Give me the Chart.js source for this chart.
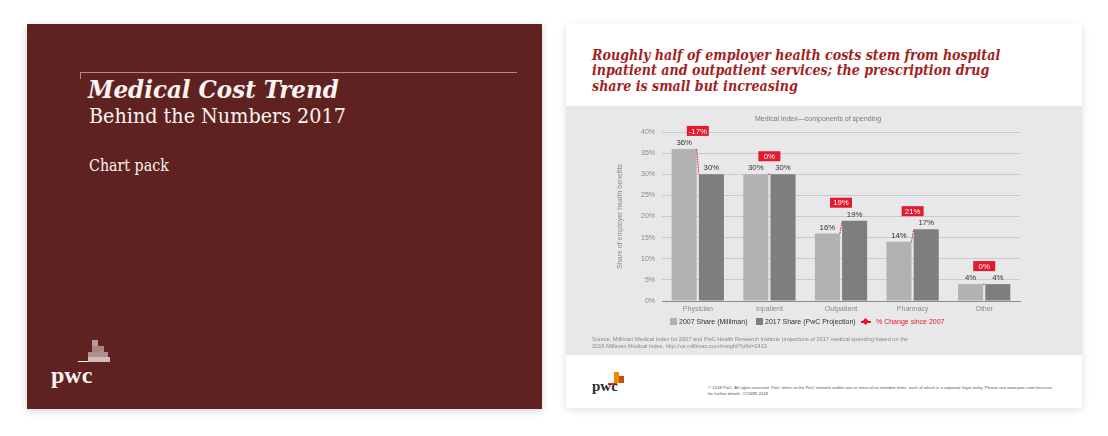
<!DOCTYPE html>
<html>
<head>
<meta charset="utf-8">
<script src="https://cdn.jsdelivr.net/npm/chart.js@4.4.1/dist/chart.umd.min.js"></script>
<style>
  body { margin: 0; width: 1108px; height: 436px; background: #fff; position: relative; overflow: hidden; font-family: "Liberation Sans", Arial, sans-serif; }
  .abs { position: absolute; }
  #cover { left: 27px; top: 24px; width: 515px; height: 385px; background: #5f2221; box-shadow: 0 2px 8px rgba(0,0,0,0.18); }
  #slide { left: 566px; top: 24px; width: 516px; height: 384px; background: #fff; box-shadow: 0 2px 8px rgba(0,0,0,0.12); }
  #panel { left: 566px; top: 106px; width: 516px; height: 249px; background: #e8e7e9; }
  .serif { font-family: "DejaVu Serif", "Liberation Serif", serif; white-space: nowrap; transform-origin: 0 0; }
  .leg { font-size: 7px; color: #333; white-space: nowrap; line-height: 8px; }
</style>
</head>
<body>

<!-- cover slide -->
<div id="cover" class="abs"></div>
<div class="abs" style="left:80px;top:72px;width:437px;height:1px;background:#b08a88;"></div>
<div class="abs" style="left:80px;top:72px;width:1px;height:7px;background:#b08a88;"></div>
<div class="abs serif" style="left:88px;top:75px;font-size:25px;font-weight:bold;font-style:italic;color:#fbf4f3;transform:scaleX(0.92);">Medical Cost Trend</div>
<div class="abs serif" style="left:89px;top:104px;font-size:20.5px;color:#fbf4f3;transform:scaleX(0.935);">Behind the Numbers 2017</div>
<div class="abs serif" style="left:89px;top:156px;font-size:16px;color:#fbf4f3;transform:scaleX(0.89);">Chart pack</div>
<div class="abs" style="left:92px;top:340px;width:6px;height:6px;background:rgba(255,255,255,0.55);"></div>
<div class="abs" style="left:92px;top:346px;width:12px;height:6px;background:rgba(255,255,255,0.45);"></div>
<div class="abs" style="left:88px;top:352px;width:20px;height:5px;background:rgba(255,255,255,0.5);"></div>
<div class="abs" style="left:88px;top:357px;width:22px;height:5px;background:rgba(255,255,255,0.7);"></div>
<div class="abs" style="left:78px;top:361px;width:10px;height:1px;background:#fff;"></div>
<div class="abs" style="left:51px;top:362px;font-family:'Liberation Serif',serif;font-size:24px;font-weight:bold;color:#fbf4f3;">pwc</div>

<!-- chart slide -->
<div id="slide" class="abs"></div>
<div class="abs serif" style="left:592px;top:47px;font-size:14.4px;line-height:15.3px;font-weight:bold;font-style:italic;color:#a31f22;transform:scaleX(0.88);">Roughly half of employer health costs stem from hospital<br>inpatient and outpatient services; the prescription drug<br>share is small but increasing</div>
<div id="panel" class="abs"></div>
<canvas id="chart" class="abs" style="left:566px;top:106px;" width="516" height="249"></canvas>

<!-- legend -->
<div class="abs" style="left:670px;top:318px;width:7px;height:7px;background:#b2b1b3;"></div>
<div class="abs leg" style="left:679px;top:318px;">2007 Share (Milliman)</div>
<div class="abs" style="left:756px;top:318px;width:7px;height:7px;background:#7e7d80;"></div>
<div class="abs leg" style="left:765px;top:318px;">2017 Share (PwC Projection)</div>
<div class="abs" style="left:861px;top:321px;width:10px;height:1.5px;background:#e3192d;"></div>
<div class="abs" style="left:863px;top:318.5px;width:5px;height:5px;background:#e3192d;transform:rotate(45deg);"></div>
<div class="abs leg" style="left:876px;top:318px;color:#e3192d;">% Change since 2007</div>

<div class="abs" style="left:592px;top:336px;font-size:5.6px;line-height:7px;color:#8a8a8a;white-space:nowrap;">Source: Milliman Medical Index for 2007 and PwC Health Research Institute projections of 2017 medical spending based on the<br>2016 Milliman Medical Index. http://us.milliman.com/insight/?pfid=2413</div>

<div class="abs" style="left:614px;top:372px;width:5px;height:11px;background:#eb8c00;"></div>
<div class="abs" style="left:619px;top:376px;width:5px;height:7px;background:#d04a02;"></div>
<div class="abs" style="left:608px;top:383px;width:9px;height:1.5px;background:#e0301e;"></div>
<div class="abs" style="left:592px;top:378px;font-family:'Liberation Serif',serif;font-size:15px;font-weight:bold;color:#2d2d2d;">pwc</div>
<div class="abs" style="left:708px;top:385px;font-size:4.3px;line-height:5.5px;color:#555;white-space:nowrap;">© 2018 PwC. All rights reserved. PwC refers to the PwC network and/or one or more of its member firms, each of which is a separate legal entity. Please see www.pwc.com/structure<br>for further details. 172489-2018</div>

<script>
var categories = ["Physician", "Inpatient", "Outpatient", "Pharmacy", "Other"];
var share2007 = [36, 30, 16, 14, 4];
var share2017 = [30, 30, 19, 17, 4];
var changeSince2007 = ["-17%", "0%", "19%", "21%", "0%"];

var red = "#e3192d";
var sans = "'Liberation Sans', Arial, sans-serif";

//Value labels, dotted connectors and % change boxes
var annotations = {
    id: "annotations",
    afterDatasetsDraw: function(chart){
        var ctx = chart.ctx;
        var bars07 = chart.getDatasetMeta(0).data;
        var bars17 = chart.getDatasetMeta(1).data;
        ctx.save();
        for(var i = 0; i < bars07.length; i++){
            var a = bars07[i], b = bars17[i];

            ctx.strokeStyle = red;
            ctx.lineWidth = 1;
            ctx.setLineDash([1.5, 1]);
            ctx.beginPath();
            ctx.moveTo(a.x + a.width / 2, a.y);
            ctx.lineTo(b.x - b.width / 2, b.y);
            ctx.stroke();
            ctx.setLineDash([]);

            ctx.fillStyle = "#333";
            ctx.font = "7.8px " + sans;
            ctx.textAlign = "center";
            ctx.textBaseline = "middle";
            ctx.fillText(share2007[i] + "%", a.x, a.y - 6);
            ctx.fillText(share2017[i] + "%", b.x, b.y - 6);

            var cx = (a.x + b.x) / 2;
            var cy = Math.min(a.y, b.y) - 18;
            ctx.fillStyle = red;
            ctx.fillRect(cx - 11, cy - 5, 22, 10);
            ctx.fillStyle = "#fff";
            ctx.fillText(changeSince2007[i], cx, cy + 0.5);
        }
        ctx.restore();
    }
};

new Chart(document.getElementById("chart"), {
    type: "bar",
    data: {
        labels: categories,
        datasets: [{
            label: "2007 Share (Milliman)",
            backgroundColor: "#b2b1b3",
            data: share2007,
            categoryPercentage: 0.76,
            barPercentage: 0.92
        }, {
            label: "2017 Share (PwC Projection)",
            backgroundColor: "#7e7d80",
            data: share2017,
            categoryPercentage: 0.76,
            barPercentage: 0.92
        }]
    },
    plugins: [annotations],
    options: {
        responsive: false,
        animation: false,
        layout: { padding: { left: 50, right: 62, top: 0, bottom: 40 } },
        plugins: {
            legend: { display: false },
            tooltip: { enabled: false },
            title: {
                display: true,
                text: "Medical index\u2014components of spending",
                color: "#7a7a7a",
                font: { size: 7, family: sans, weight: "normal" },
                padding: { top: 9, bottom: 8.6 }
            }
        },
        scales: {
            x: {
                grid: { display: false, drawTicks: false },
                border: { color: "#8c8c8c", width: 1 },
                ticks: { color: "#8a8a8a", font: { size: 7, family: sans }, padding: 4 },
                afterFit: function(s){ s.height = 14; }
            },
            y: {
                min: 0,
                max: 40,
                ticks: {
                    stepSize: 5,
                    color: "#8a8a8a",
                    font: { size: 7, family: sans },
                    padding: 7,
                    callback: function(v){ return v + "%"; }
                },
                grid: { color: "#cac9cc", drawTicks: false },
                border: { display: false },
                title: {
                    display: true,
                    text: "Share of employer health benefits",
                    color: "#8a8a8a",
                    font: { size: 7, family: sans },
                    padding: 0
                },
                afterFit: function(s){ s.width = 46; }
            }
        }
    }
});
</script>
</body>
</html>
